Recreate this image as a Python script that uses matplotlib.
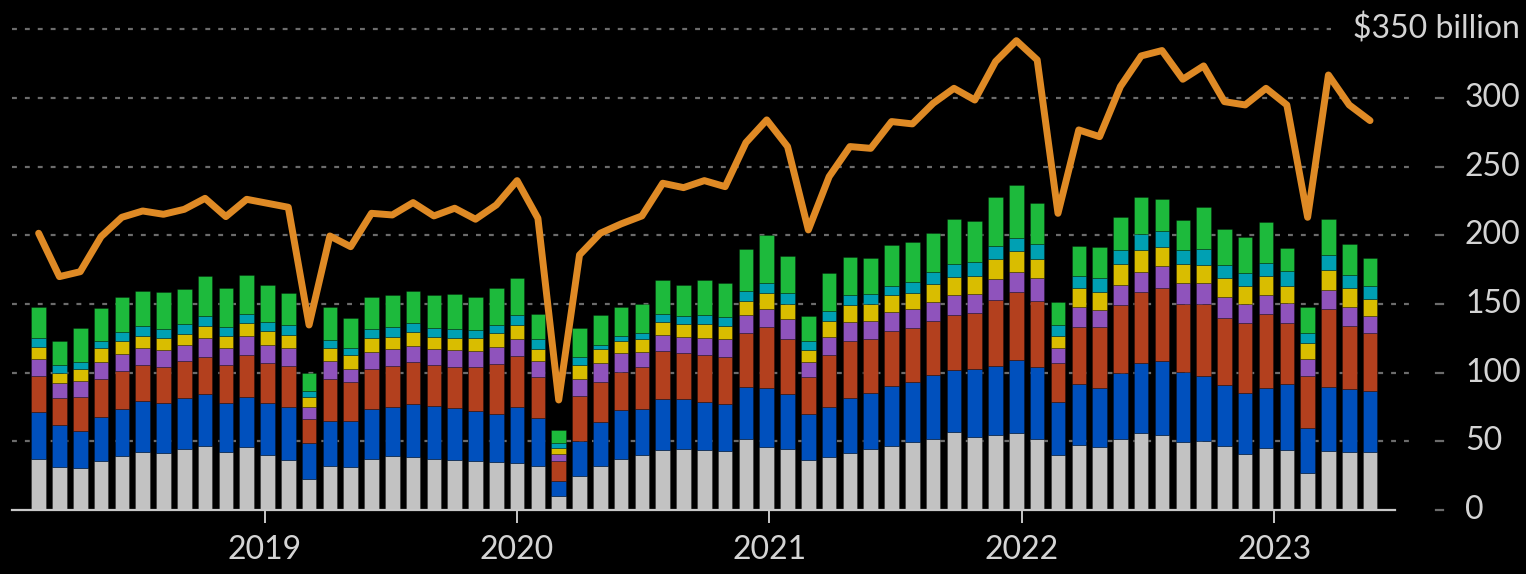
import numpy as np
import pandas as pd
import matplotlib
matplotlib.use("Agg")
import matplotlib.pyplot as plt

# monthly values, Feb 2018 .. Jun 2023 ($ billion)
months = pd.date_range("2018-02-01", periods=65, freq="MS")

seg_gray = [37.1, 31.6, 30.3, 35.9, 39.1, 42.5, 41.5, 44.4, 46.6, 42.5, 46.1,
            40.0, 36.4, 22.3, 32.0, 31.1, 37.4, 39.1, 38.8, 37.1, 36.4, 35.7,
            35.2, 34.5, 32.3, 10.2, 24.8, 32.0, 37.1, 40.0, 43.7, 44.4, 43.7,
            43.2, 51.7, 46.1, 44.2, 36.2, 38.3, 41.7, 44.7, 46.8, 49.5, 51.5,
            57.0, 53.4, 54.6, 55.8, 51.5, 39.8, 47.1, 46.1, 51.7, 55.8, 54.9,
            49.3, 50.2, 46.8, 40.8, 44.9, 43.9, 26.7, 43.2, 42.5, 42.2]
seg_blue = [34.0, 30.1, 27.0, 32.1, 34.2, 36.9, 36.2, 37.2, 37.6, 35.2, 35.9,
            37.7, 38.8, 26.2, 32.8, 33.9, 36.1, 35.7, 38.4, 38.4, 37.6, 36.4,
            34.7, 40.3, 34.4, 10.9, 25.4, 32.3, 35.7, 33.8, 36.9, 36.2, 34.9,
            34.0, 37.6, 42.5, 40.0, 33.7, 36.9, 40.1, 40.3, 43.2, 43.5, 46.6,
            44.9, 49.0, 50.3, 53.4, 52.6, 39.1, 44.6, 43.0, 48.3, 51.0, 53.6,
            51.4, 47.4, 44.0, 44.6, 43.9, 47.8, 33.0, 46.1, 45.4, 44.7]
seg_red = [26.7, 20.1, 24.7, 27.4, 28.2, 26.4, 26.2, 26.9, 27.2, 27.9, 30.9,
           29.6, 29.7, 17.5, 30.6, 28.0, 29.4, 30.1, 30.3, 30.1, 30.1, 31.8,
           36.2, 37.6, 29.9, 14.6, 33.1, 29.1, 27.9, 30.6, 35.2, 34.0, 34.5,
           34.5, 39.3, 44.4, 40.3, 26.9, 37.7, 41.3, 39.3, 40.3, 39.8, 39.5,
           40.3, 40.8, 48.0, 49.8, 48.1, 28.4, 41.8, 44.4, 49.3, 51.7, 53.4,
           49.5, 52.4, 49.2, 50.5, 53.7, 44.7, 38.1, 56.8, 46.1, 41.7]
seg_purple = [12.2, 10.4, 11.9, 12.4, 11.8, 11.9, 12.4, 11.4, 13.6, 12.6, 13.8,
              12.8, 12.8, 9.2, 12.9, 9.9, 12.1, 12.1, 12.2, 11.6, 12.6, 11.9,
              12.8, 12.1, 12.1, 4.8, 12.3, 13.4, 13.4, 10.6, 11.6, 11.6, 12.4,
              12.6, 13.4, 13.4, 14.3, 11.2, 13.3, 13.6, 13.6, 13.6, 13.3, 13.9,
              14.1, 13.8, 15.1, 14.5, 16.5, 10.4, 14.6, 12.4, 14.3, 14.8, 15.8,
              14.8, 15.0, 14.9, 14.3, 14.1, 14.1, 12.2, 14.1, 13.8, 12.7]
seg_yellow = [8.4, 7.3, 8.5, 9.9, 10.0, 9.2, 8.9, 8.3, 9.0, 8.7, 9.5,
              10.5, 10.0, 6.8, 9.7, 9.7, 10.2, 9.2, 9.7, 8.5, 8.8, 9.7,
              9.7, 10.5, 8.3, 4.9, 10.0, 10.2, 9.2, 9.3, 9.5, 9.0, 9.9,
              9.7, 10.4, 11.4, 11.2, 8.5, 11.7, 12.3, 12.3, 12.4, 12.2, 12.8,
              13.1, 13.4, 14.8, 15.1, 14.3, 9.2, 13.6, 13.1, 15.8, 16.0, 14.0,
              13.9, 13.4, 14.0, 13.1, 13.8, 12.8, 11.6, 14.6, 13.6, 12.1]
seg_teal = [6.6, 5.8, 5.6, 5.6, 6.6, 7.3, 6.4, 7.0, 7.3, 6.6, 6.3,
            6.5, 6.8, 4.7, 5.5, 5.4, 6.4, 7.1, 7.0, 6.6, 6.3, 5.6,
            6.1, 6.7, 7.3, 3.1, 5.6, 3.1, 3.4, 4.3, 5.8, 6.3, 6.8,
            6.8, 7.3, 7.7, 7.8, 6.6, 7.0, 7.8, 7.1, 7.0, 7.5, 8.8,
            10.0, 9.9, 9.7, 9.7, 10.7, 7.6, 8.9, 9.7, 9.9, 11.4, 11.5,
            10.4, 11.4, 9.7, 9.5, 9.7, 10.5, 7.0, 10.6, 9.7, 9.7]
seg_green = [23.1, 17.8, 24.3, 23.5, 25.0, 25.3, 27.4, 25.5, 28.8, 28.4, 28.6,
             26.7, 23.3, 13.3, 24.1, 21.6, 23.7, 23.3, 23.1, 24.0, 25.5, 23.8,
             26.7, 27.5, 18.4, 9.8, 21.1, 21.9, 20.9, 21.2, 24.8, 22.6, 25.3,
             24.7, 30.1, 34.7, 27.2, 18.4, 27.9, 27.4, 26.4, 29.9, 29.1, 28.8,
             32.7, 30.4, 35.7, 38.4, 29.8, 17.2, 21.9, 22.6, 23.8, 27.5, 23.5,
             21.9, 30.6, 26.3, 26.2, 29.4, 17.2, 19.0, 26.3, 22.3, 20.2]

line_total = [201.5, 169.9, 173.5, 199.0, 213.1, 217.7, 215.3, 218.9, 226.9, 213.6, 226.2,
              223.3, 220.4, 134.7, 199.5, 191.7, 216.0, 214.8, 223.8, 214.1, 219.7, 211.7,
              222.1, 239.8, 212.4, 80.1, 185.7, 201.5, 208.3, 214.1, 237.9, 234.7, 239.8,
              235.4, 267.5, 284.0, 264.6, 203.9, 242.7, 264.6, 263.3, 282.8, 281.1, 296.1,
              307.0, 298.5, 326.5, 341.7, 327.7, 216.0, 276.7, 271.8, 308.3, 330.6, 334.5,
              313.6, 323.3, 297.3, 294.9, 307.0, 294.9, 213.1, 316.7, 294.9, 283.5]

years = [2019, 2020, 2021, 2022, 2023]
yticks = [0, 50, 100, 150, 200, 250, 300]

colors = ["#c2c2c2", "#0050bd", "#b3401e", "#8f53bc", "#d9bd00", "#00a0b3", "#1dba3c"]
line_color = "#df8a25"
text_color = "#d4d4d4"
grid_color = "#6c6c6c"

plt.rcParams["font.family"] = ["Lato", "DejaVu Sans"]

fig = plt.figure(figsize=(15.26, 5.74), dpi=100, facecolor="black")
ax = fig.add_axes([12 / 1526, 64 / 574, 1383 / 1526, 510 / 574])
ax.set_facecolor("black")

x = np.arange(len(months))
bottom = np.zeros(len(x))
for vals, c in zip([seg_gray, seg_blue, seg_red, seg_purple, seg_yellow, seg_teal, seg_green], colors):
    ax.bar(x, vals, bottom=bottom, width=0.7, color=c, edgecolor="#00000050", linewidth=0.6, zorder=3)
    bottom += np.array(vals)

ax.plot(x, line_total, color=line_color, lw=5, solid_joinstyle="round",
        solid_capstyle="round", zorder=5)

ax.set_xlim(-1.28, 65.2)
ax.set_ylim(0, 371.3)

# dotted gridlines running slightly past the plot, with a small dash before labels
for v in yticks[1:]:
    ax.axhline(v, xmin=0, xmax=1.013, color=grid_color, lw=1.6,
               linestyle=(0, (2.2, 3.6)), clip_on=False, zorder=1)
    ax.axhline(v, xmin=1.0295, xmax=1.035, color=grid_color, lw=1.6, clip_on=False)
ax.axhline(350, xmin=0, xmax=0.954, color=grid_color, lw=1.6,
           linestyle=(0, (2.2, 3.6)), clip_on=False, zorder=1)
ax.axhline(0, xmin=1.0295, xmax=1.035, color=grid_color, lw=1.6, clip_on=False)

for v in yticks:
    ax.text(1.0506, v, str(v), transform=ax.get_yaxis_transform(), ha="left",
            va="center", fontsize=23, color=text_color)
ax.text(1.0904, 350, "$350 billion", transform=ax.get_yaxis_transform(), ha="right",
        va="center", fontsize=23, color=text_color)

# year ticks sit on a time scale slightly wider than the bar band
jan2020 = list(months).index(pd.Timestamp("2020-01-01"))
ax.set_xticks([jan2020 + (y - 2020) * 12.13 for y in years])
ax.set_xticklabels([str(y) for y in years])
ax.tick_params(axis="x", length=9, width=1.4, color="#c8c8c8", pad=9,
               labelsize=23, labelcolor=text_color)
ax.set_yticks([])

for s in ["top", "right", "left"]:
    ax.spines[s].set_visible(False)
ax.spines["bottom"].set_color("#c8c8c8")
ax.spines["bottom"].set_linewidth(1.6)
ax.spines["bottom"].set_zorder(4)

fig.savefig("out.png", dpi=100, facecolor="black")
